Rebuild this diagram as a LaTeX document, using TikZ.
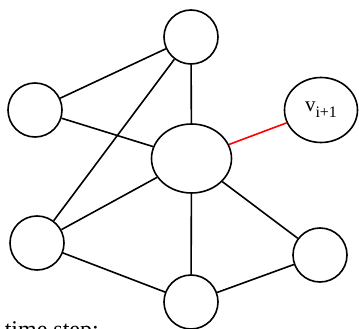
\documentclass[tikz,border=0pt]{standalone}
\usepackage{fontspec}
\setmainfont{Liberation Serif}
\usetikzlibrary{shapes.geometric}

\begin{document}
\begin{tikzpicture}
[x=1pt, y=-1pt,
 line width=1.6pt,
 vertex/.style={circle, draw, minimum size=54pt, inner sep=0pt},
 hub/.style={ellipse, draw, minimum width=80pt, minimum height=69pt, inner sep=0pt},
 newvertex/.style={ellipse, draw, minimum width=73pt, minimum height=65pt, inner sep=0pt},
 newedge/.style={red},
]
\clip (0,0) rectangle (359,329);

\node[vertex]    (top)        at (191,37)  {};
\node[vertex]    (upperleft)  at (35,110)  {};
\node[hub]       (centre)     at (191.5,158.5) {};
\node[newvertex] (vnext)      at (321,110) {\fontsize{21}{21}\selectfont v\raisebox{-6pt}{\fontsize{16}{16}\selectfont i+1}};
\node[vertex]    (lowerleft)  at (37,243)  {};
\node[vertex]    (lowerright) at (320,255) {};
\node[vertex]    (bottom)     at (191,302) {};

\node[anchor=base west, inner sep=0pt] (caption) at (4,337)
  {\fontsize{24}{24}\selectfont time step:};

\draw
(top)        -- (upperleft)
(top)        -- (centre)
(top)        -- (lowerleft)
(upperleft)  -- (centre)
(centre)     -- (lowerleft)
(centre)     -- (bottom)
(centre)     -- (lowerright)
(lowerleft)  -- (bottom)
(bottom)     -- (lowerright);
\draw[newedge] (centre) -- (vnext);
\end{tikzpicture}
\end{document}
